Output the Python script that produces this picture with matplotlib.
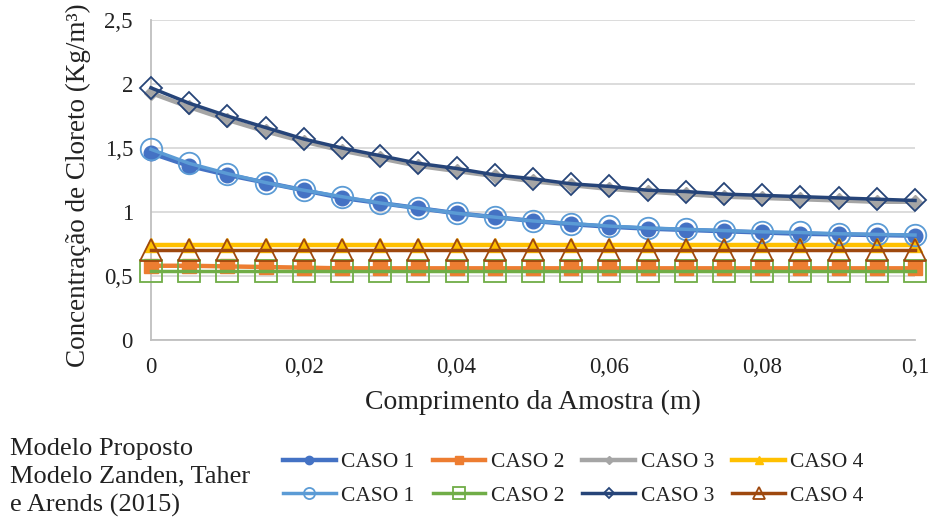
import matplotlib
matplotlib.use("Agg")
import matplotlib.pyplot as plt
import numpy as np

plt.rcParams['font.family'] = ['Liberation Serif', 'DejaVu Serif']

# ---- data ----
comprimento = [0, 0.005, 0.01, 0.015, 0.02, 0.025, 0.03, 0.035, 0.04, 0.045, 0.05,
               0.055, 0.06, 0.065, 0.07, 0.075, 0.08, 0.085, 0.09, 0.095, 0.1]

prop_caso1 = [1.46, 1.36, 1.29, 1.23, 1.17, 1.11, 1.07, 1.03, 0.99, 0.96, 0.93,
              0.905, 0.885, 0.87, 0.86, 0.85, 0.84, 0.83, 0.825, 0.82, 0.815]
prop_caso2 = [0.58, 0.58, 0.575, 0.57, 0.565, 0.56, 0.56, 0.56, 0.56, 0.56, 0.56,
              0.56, 0.56, 0.56, 0.56, 0.56, 0.56, 0.56, 0.56, 0.56, 0.56]
prop_caso3 = [1.93, 1.82, 1.72, 1.63, 1.55, 1.48, 1.42, 1.36, 1.32, 1.28, 1.24,
              1.21, 1.18, 1.16, 1.14, 1.12, 1.11, 1.10, 1.09, 1.08, 1.08]
prop_caso4 = [0.74, 0.74, 0.74, 0.74, 0.74, 0.74, 0.74, 0.74, 0.74, 0.74, 0.74,
              0.74, 0.74, 0.74, 0.74, 0.74, 0.74, 0.74, 0.74, 0.74, 0.74]

zand_caso1 = [1.49, 1.38, 1.30, 1.23, 1.17, 1.12, 1.07, 1.03, 0.99, 0.96, 0.93,
              0.91, 0.89, 0.875, 0.865, 0.855, 0.845, 0.84, 0.83, 0.825, 0.82]
zand_caso2 = [0.54, 0.54, 0.54, 0.54, 0.54, 0.54, 0.54, 0.54, 0.54, 0.54, 0.54,
              0.54, 0.54, 0.54, 0.54, 0.54, 0.54, 0.54, 0.54, 0.54, 0.54]
zand_caso3 = [1.97, 1.85, 1.75, 1.66, 1.57, 1.50, 1.44, 1.38, 1.34, 1.29, 1.26,
              1.22, 1.20, 1.17, 1.16, 1.14, 1.13, 1.12, 1.11, 1.10, 1.09]
zand_caso4 = [0.70, 0.70, 0.70, 0.70, 0.70, 0.70, 0.70, 0.70, 0.70, 0.70, 0.70,
              0.70, 0.70, 0.70, 0.70, 0.70, 0.70, 0.70, 0.70, 0.70, 0.70]

x_ticks = [0, 0.02, 0.04, 0.06, 0.08, 0.1]
x_tick_labels = ['0', '0,02', '0,04', '0,06', '0,08', '0,1']
y_ticks = [0, 0.5, 1, 1.5, 2, 2.5]
y_tick_labels = ['0', '0,5', '1', '1,5', '2', '2,5']
series_labels = ['CASO 1', 'CASO 2', 'CASO 3', 'CASO 4']
group_text = 'Modelo Proposto\nModelo Zanden, Taher\ne Arends (2015)'
x_title = 'Comprimento da Amostra (m)'
y_title = 'Concentração de Cloreto (Kg/m³)'

# ---- figure ----
fig = plt.figure(figsize=(9.31, 5.21), dpi=100)
ax = fig.add_axes([151/931, 1-340/521, 764/931, 320/521])

prop_styles = [
    (prop_caso1, '#4472C4', 'o', 10.5),
    (prop_caso2, '#ED7D31', 's', 9.5),
    (prop_caso3, '#A5A5A5', 'D', 7),
    (prop_caso4, '#FFC000', '^', 10.5),
]
zand_styles = [
    (zand_caso1, '#5B9BD5', 'o', 15.5),
    (zand_caso2, '#70AD47', 's', 15.5),
    (zand_caso3, '#264478', 'D', 11),
    (zand_caso4, '#9E480E', '^', 15.5),
]

prop_lines = []
for (vals, c, m, ms), lab in zip(prop_styles, series_labels):
    ln, = ax.plot(comprimento, vals, color=c, lw=3.2, marker=m, ms=ms,
                  mfc=c, mec=c, mew=1, label=lab, clip_on=False, zorder=3)
    prop_lines.append(ln)

zand_lines = []
for (vals, c, m, ms), lab in zip(zand_styles, series_labels):
    ln, = ax.plot(comprimento, vals, color=c, lw=2.5, marker=m, ms=ms,
                  mfc='none', mec=c, mew=1.3, label=lab, clip_on=False, zorder=4)
    zand_lines.append(ln)

ax.set_xlim(0, 0.1)
ax.set_ylim(0, 2.5)
ax.set_xticks(x_ticks)
ax.set_xticklabels(x_tick_labels)
ax.set_yticks(y_ticks)
ax.set_yticklabels(y_tick_labels)
ax.tick_params(axis='both', length=0, labelsize=16.5, colors='#222222')
ax.tick_params(axis='x', pad=12)
ax.tick_params(axis='y', pad=13)
ax.grid(axis='y', color='#D9D9D9', lw=1.3)
ax.set_axisbelow(True)
for s in ['top', 'right']:
    ax.spines[s].set_visible(False)
for s in ['left', 'bottom']:
    ax.spines[s].set_color('#BFBFBF')
    ax.spines[s].set_linewidth(1.3)

ax.set_xlabel(x_title, fontsize=20, color='#222222')
ax.xaxis.set_label_coords(0.5, -0.155)
ax.set_ylabel(y_title, fontsize=19.5, color='#222222')
ax.yaxis.set_label_coords(-0.078, 0.485)

# legend: column-major order -> (prop, zand) per column
handles = []
labels = []
for p, z, lab in zip(prop_lines, zand_lines, series_labels):
    handles += [p, z]
    labels += [lab, lab]
leg = fig.legend(handles, labels, ncol=4, loc='upper left',
                 bbox_to_anchor=(283/931, 1-452/521), frameon=False,
                 fontsize=15.5, handlelength=2.45, handletextpad=0.25,
                 columnspacing=0.85, labelspacing=0.64, borderpad=0,
                 borderaxespad=0)
leg_sizes = [6, 8, 5.5, 8, 4.5, 5.5, 6, 8]
for ln, s in zip(leg.get_lines(), leg_sizes):
    ln.set_markersize(s)
for t in leg.get_texts():
    t.set_color('#222222')

fig.text(10/931, 1-438/521, group_text, fontsize=19, va='top', ha='left',
         linespacing=1.33, color='#222222')

fig.savefig('out.png', dpi=100)
